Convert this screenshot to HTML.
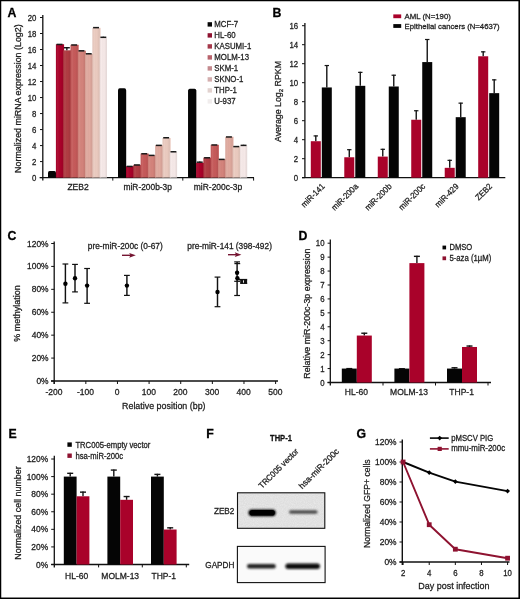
<!DOCTYPE html>
<html><head><meta charset="utf-8"><title>Figure</title>
<style>
html,body{margin:0;padding:0;background:#fff;}
body{width:520px;height:599px;overflow:hidden;}
svg{display:block;font-family:"Liberation Sans", sans-serif;will-change:transform;filter:blur(0.3px);}
</style></head>
<body>
<svg width="520" height="599" viewBox="0 0 520 599">
<rect x="0" y="0" width="520" height="599" fill="#fff"/>
<defs><linearGradient id="shade" x1="0" y1="0" x2="1" y2="0"><stop offset="0" stop-color="#000" stop-opacity="0.05"/><stop offset="0.25" stop-color="#fff" stop-opacity="0.06"/><stop offset="0.6" stop-color="#000" stop-opacity="0"/><stop offset="1" stop-color="#000" stop-opacity="0.08"/></linearGradient></defs>
<text x="7.60" y="16.80" font-size="12.3" text-anchor="start" fill="#000" stroke="#000" stroke-width="0.28" font-weight="bold" >A</text>
<line x1="42.80" y1="15.00" x2="42.80" y2="180.60" stroke="#111" stroke-width="1.3" stroke-linecap="butt"/>
<line x1="39.60" y1="177.60" x2="254.00" y2="177.60" stroke="#111" stroke-width="1.3" stroke-linecap="butt"/>
<line x1="40.00" y1="177.60" x2="42.80" y2="177.60" stroke="#111" stroke-width="1.0" stroke-linecap="butt"/>
<text x="36.40" y="180.60" font-size="8.5" text-anchor="end" fill="#1e1e1e" stroke="#1e1e1e" stroke-width="0.28" textLength="4.35" lengthAdjust="spacingAndGlyphs" >0</text>
<line x1="40.00" y1="161.59" x2="42.80" y2="161.59" stroke="#111" stroke-width="1.0" stroke-linecap="butt"/>
<text x="36.40" y="164.59" font-size="8.5" text-anchor="end" fill="#1e1e1e" stroke="#1e1e1e" stroke-width="0.28" textLength="4.35" lengthAdjust="spacingAndGlyphs" >2</text>
<line x1="40.00" y1="145.58" x2="42.80" y2="145.58" stroke="#111" stroke-width="1.0" stroke-linecap="butt"/>
<text x="36.40" y="148.58" font-size="8.5" text-anchor="end" fill="#1e1e1e" stroke="#1e1e1e" stroke-width="0.28" textLength="4.35" lengthAdjust="spacingAndGlyphs" >4</text>
<line x1="40.00" y1="129.57" x2="42.80" y2="129.57" stroke="#111" stroke-width="1.0" stroke-linecap="butt"/>
<text x="36.40" y="132.57" font-size="8.5" text-anchor="end" fill="#1e1e1e" stroke="#1e1e1e" stroke-width="0.28" textLength="4.35" lengthAdjust="spacingAndGlyphs" >6</text>
<line x1="40.00" y1="113.56" x2="42.80" y2="113.56" stroke="#111" stroke-width="1.0" stroke-linecap="butt"/>
<text x="36.40" y="116.56" font-size="8.5" text-anchor="end" fill="#1e1e1e" stroke="#1e1e1e" stroke-width="0.28" textLength="4.35" lengthAdjust="spacingAndGlyphs" >8</text>
<line x1="40.00" y1="97.55" x2="42.80" y2="97.55" stroke="#111" stroke-width="1.0" stroke-linecap="butt"/>
<text x="36.40" y="100.55" font-size="8.5" text-anchor="end" fill="#1e1e1e" stroke="#1e1e1e" stroke-width="0.28" textLength="8.70" lengthAdjust="spacingAndGlyphs" >10</text>
<line x1="40.00" y1="81.54" x2="42.80" y2="81.54" stroke="#111" stroke-width="1.0" stroke-linecap="butt"/>
<text x="36.40" y="84.54" font-size="8.5" text-anchor="end" fill="#1e1e1e" stroke="#1e1e1e" stroke-width="0.28" textLength="8.70" lengthAdjust="spacingAndGlyphs" >12</text>
<line x1="40.00" y1="65.53" x2="42.80" y2="65.53" stroke="#111" stroke-width="1.0" stroke-linecap="butt"/>
<text x="36.40" y="68.53" font-size="8.5" text-anchor="end" fill="#1e1e1e" stroke="#1e1e1e" stroke-width="0.28" textLength="8.70" lengthAdjust="spacingAndGlyphs" >14</text>
<line x1="40.00" y1="49.52" x2="42.80" y2="49.52" stroke="#111" stroke-width="1.0" stroke-linecap="butt"/>
<text x="36.40" y="52.52" font-size="8.5" text-anchor="end" fill="#1e1e1e" stroke="#1e1e1e" stroke-width="0.28" textLength="8.70" lengthAdjust="spacingAndGlyphs" >16</text>
<line x1="40.00" y1="33.51" x2="42.80" y2="33.51" stroke="#111" stroke-width="1.0" stroke-linecap="butt"/>
<text x="36.40" y="36.51" font-size="8.5" text-anchor="end" fill="#1e1e1e" stroke="#1e1e1e" stroke-width="0.28" textLength="8.70" lengthAdjust="spacingAndGlyphs" >18</text>
<line x1="40.00" y1="17.50" x2="42.80" y2="17.50" stroke="#111" stroke-width="1.0" stroke-linecap="butt"/>
<text x="36.40" y="20.50" font-size="8.5" text-anchor="end" fill="#1e1e1e" stroke="#1e1e1e" stroke-width="0.28" textLength="8.70" lengthAdjust="spacingAndGlyphs" >20</text>
<line x1="112.80" y1="177.60" x2="112.80" y2="180.60" stroke="#111" stroke-width="1.0" stroke-linecap="butt"/>
<line x1="182.80" y1="177.60" x2="182.80" y2="180.60" stroke="#111" stroke-width="1.0" stroke-linecap="butt"/>
<line x1="253.60" y1="177.60" x2="253.60" y2="180.60" stroke="#111" stroke-width="1.0" stroke-linecap="butt"/>
<text x="21.20" y="98.60" font-size="8.2" text-anchor="middle" fill="#1e1e1e" stroke="#1e1e1e" stroke-width="0.28" textLength="148.60" lengthAdjust="spacingAndGlyphs" transform="rotate(-90 21.20 98.60)" >Normalized miRNA expression (Log2)</text>
<rect x="48.00" y="171.04" width="8.00" height="6.56" rx="1.6" fill="#050505"/>
<rect x="48.00" y="173.04" width="8.00" height="4.56" fill="#050505" />
<rect x="55.90" y="44.24" width="8.20" height="133.36" fill="#aa0129" />
<rect x="55.90" y="44.24" width="7.30" height="133.36" fill="url(#shade)" />
<line x1="56.60" y1="44.44" x2="62.50" y2="44.44" stroke="#1a1a1a" stroke-width="1.5" stroke-linecap="butt"/>
<rect x="63.20" y="50.32" width="8.20" height="127.28" fill="#b03c42" />
<rect x="63.20" y="50.32" width="7.30" height="127.28" fill="url(#shade)" />
<line x1="63.90" y1="47.72" x2="69.80" y2="47.72" stroke="#1a1a1a" stroke-width="1.5" stroke-linecap="butt"/>
<line x1="66.85" y1="47.12" x2="66.85" y2="50.32" stroke="#151515" stroke-width="1.4" stroke-linecap="butt"/>
<rect x="70.50" y="44.80" width="8.20" height="132.80" fill="#c65a5a" />
<rect x="70.50" y="44.80" width="7.30" height="132.80" fill="url(#shade)" />
<line x1="71.20" y1="45.00" x2="77.10" y2="45.00" stroke="#1a1a1a" stroke-width="1.5" stroke-linecap="butt"/>
<rect x="77.80" y="50.64" width="8.20" height="126.96" fill="#d4837b" />
<rect x="77.80" y="50.64" width="7.30" height="126.96" fill="url(#shade)" />
<line x1="78.50" y1="50.84" x2="84.40" y2="50.84" stroke="#1a1a1a" stroke-width="1.5" stroke-linecap="butt"/>
<rect x="85.10" y="54.00" width="8.20" height="123.60" fill="#e0aa9f" />
<rect x="85.10" y="54.00" width="7.30" height="123.60" fill="url(#shade)" />
<line x1="85.80" y1="53.80" x2="91.70" y2="53.80" stroke="#1a1a1a" stroke-width="1.5" stroke-linecap="butt"/>
<line x1="88.75" y1="53.20" x2="88.75" y2="54.00" stroke="#151515" stroke-width="1.4" stroke-linecap="butt"/>
<rect x="92.40" y="27.83" width="8.20" height="149.77" fill="#ebcbc0" />
<rect x="92.40" y="27.83" width="7.30" height="149.77" fill="url(#shade)" />
<line x1="93.10" y1="27.63" x2="99.00" y2="27.63" stroke="#1a1a1a" stroke-width="1.5" stroke-linecap="butt"/>
<line x1="96.05" y1="27.03" x2="96.05" y2="27.83" stroke="#151515" stroke-width="1.4" stroke-linecap="butt"/>
<rect x="99.70" y="37.91" width="7.30" height="139.69" fill="#f6e9e8" />
<rect x="99.70" y="37.91" width="7.30" height="139.69" fill="url(#shade)" />
<line x1="100.40" y1="37.31" x2="106.30" y2="37.31" stroke="#1a1a1a" stroke-width="1.5" stroke-linecap="butt"/>
<line x1="103.35" y1="36.71" x2="103.35" y2="37.91" stroke="#151515" stroke-width="1.4" stroke-linecap="butt"/>
<rect x="118.10" y="88.34" width="8.00" height="89.26" rx="1.6" fill="#050505"/>
<rect x="118.10" y="90.34" width="8.00" height="87.26" fill="#050505" />
<rect x="126.00" y="166.23" width="8.20" height="11.37" fill="#aa0129" />
<rect x="126.00" y="166.23" width="7.30" height="11.37" fill="url(#shade)" />
<line x1="126.70" y1="166.43" x2="132.60" y2="166.43" stroke="#1a1a1a" stroke-width="1.5" stroke-linecap="butt"/>
<rect x="133.30" y="164.79" width="8.20" height="12.81" fill="#b03c42" />
<rect x="133.30" y="164.79" width="7.30" height="12.81" fill="url(#shade)" />
<line x1="134.00" y1="164.99" x2="139.90" y2="164.99" stroke="#1a1a1a" stroke-width="1.5" stroke-linecap="butt"/>
<rect x="140.60" y="153.58" width="8.20" height="24.02" fill="#c65a5a" />
<rect x="140.60" y="153.58" width="7.30" height="24.02" fill="url(#shade)" />
<line x1="141.30" y1="153.78" x2="147.20" y2="153.78" stroke="#1a1a1a" stroke-width="1.5" stroke-linecap="butt"/>
<rect x="147.90" y="155.19" width="8.20" height="22.41" fill="#d4837b" />
<rect x="147.90" y="155.19" width="7.30" height="22.41" fill="url(#shade)" />
<line x1="148.60" y1="155.39" x2="154.50" y2="155.39" stroke="#1a1a1a" stroke-width="1.5" stroke-linecap="butt"/>
<rect x="155.20" y="145.18" width="8.20" height="32.42" fill="#e0aa9f" />
<rect x="155.20" y="145.18" width="7.30" height="32.42" fill="url(#shade)" />
<line x1="155.90" y1="145.38" x2="161.80" y2="145.38" stroke="#1a1a1a" stroke-width="1.5" stroke-linecap="butt"/>
<rect x="162.50" y="137.98" width="8.20" height="39.62" fill="#ebcbc0" />
<rect x="162.50" y="137.98" width="7.30" height="39.62" fill="url(#shade)" />
<line x1="163.20" y1="137.77" x2="169.10" y2="137.77" stroke="#1a1a1a" stroke-width="1.5" stroke-linecap="butt"/>
<line x1="166.15" y1="137.17" x2="166.15" y2="137.98" stroke="#151515" stroke-width="1.4" stroke-linecap="butt"/>
<rect x="169.80" y="151.98" width="7.30" height="25.62" fill="#f6e9e8" />
<rect x="169.80" y="151.98" width="7.30" height="25.62" fill="url(#shade)" />
<line x1="170.50" y1="151.78" x2="176.40" y2="151.78" stroke="#1a1a1a" stroke-width="1.5" stroke-linecap="butt"/>
<line x1="173.45" y1="151.18" x2="173.45" y2="151.98" stroke="#151515" stroke-width="1.4" stroke-linecap="butt"/>
<rect x="188.20" y="88.74" width="8.00" height="88.86" rx="1.6" fill="#050505"/>
<rect x="188.20" y="90.74" width="8.00" height="86.86" fill="#050505" />
<rect x="196.10" y="162.79" width="8.20" height="14.81" fill="#aa0129" />
<rect x="196.10" y="162.79" width="7.30" height="14.81" fill="url(#shade)" />
<line x1="196.80" y1="162.19" x2="202.70" y2="162.19" stroke="#1a1a1a" stroke-width="1.5" stroke-linecap="butt"/>
<line x1="199.75" y1="161.59" x2="199.75" y2="162.79" stroke="#151515" stroke-width="1.4" stroke-linecap="butt"/>
<rect x="203.40" y="157.59" width="8.20" height="20.01" fill="#b03c42" />
<rect x="203.40" y="157.59" width="7.30" height="20.01" fill="url(#shade)" />
<line x1="204.10" y1="157.79" x2="210.00" y2="157.79" stroke="#1a1a1a" stroke-width="1.5" stroke-linecap="butt"/>
<rect x="210.70" y="144.78" width="8.20" height="32.82" fill="#c65a5a" />
<rect x="210.70" y="144.78" width="7.30" height="32.82" fill="url(#shade)" />
<line x1="211.40" y1="144.98" x2="217.30" y2="144.98" stroke="#1a1a1a" stroke-width="1.5" stroke-linecap="butt"/>
<rect x="218.00" y="159.19" width="8.20" height="18.41" fill="#d4837b" />
<rect x="218.00" y="159.19" width="7.30" height="18.41" fill="url(#shade)" />
<line x1="218.70" y1="159.39" x2="224.60" y2="159.39" stroke="#1a1a1a" stroke-width="1.5" stroke-linecap="butt"/>
<rect x="225.30" y="136.77" width="8.20" height="40.83" fill="#e0aa9f" />
<rect x="225.30" y="136.77" width="7.30" height="40.83" fill="url(#shade)" />
<line x1="226.00" y1="136.97" x2="231.90" y2="136.97" stroke="#1a1a1a" stroke-width="1.5" stroke-linecap="butt"/>
<rect x="232.60" y="146.38" width="8.20" height="31.22" fill="#ebcbc0" />
<rect x="232.60" y="146.38" width="7.30" height="31.22" fill="url(#shade)" />
<line x1="233.30" y1="146.58" x2="239.20" y2="146.58" stroke="#1a1a1a" stroke-width="1.5" stroke-linecap="butt"/>
<rect x="239.90" y="145.58" width="7.30" height="32.02" fill="#f6e9e8" />
<rect x="239.90" y="145.58" width="7.30" height="32.02" fill="url(#shade)" />
<line x1="240.60" y1="145.38" x2="246.50" y2="145.38" stroke="#1a1a1a" stroke-width="1.5" stroke-linecap="butt"/>
<line x1="243.55" y1="144.78" x2="243.55" y2="145.58" stroke="#151515" stroke-width="1.4" stroke-linecap="butt"/>
<text x="78.10" y="189.60" font-size="8.5" text-anchor="middle" fill="#1e1e1e" stroke="#1e1e1e" stroke-width="0.28" textLength="21.40" lengthAdjust="spacingAndGlyphs" >ZEB2</text>
<text x="147.70" y="189.60" font-size="8.5" text-anchor="middle" fill="#1e1e1e" stroke="#1e1e1e" stroke-width="0.28" textLength="48.40" lengthAdjust="spacingAndGlyphs" >miR-200b-3p</text>
<text x="218.00" y="189.60" font-size="8.5" text-anchor="middle" fill="#1e1e1e" stroke="#1e1e1e" stroke-width="0.28" textLength="48.40" lengthAdjust="spacingAndGlyphs" >miR-200c-3p</text>
<rect x="207.60" y="22.20" width="4.40" height="4.40" fill="#050505" />
<text x="214.30" y="27.40" font-size="8.5" text-anchor="start" fill="#1e1e1e" stroke="#1e1e1e" stroke-width="0.28" textLength="23.89" lengthAdjust="spacingAndGlyphs" >MCF-7</text>
<rect x="207.60" y="33.20" width="4.40" height="4.40" fill="#8e1230" />
<text x="214.30" y="38.40" font-size="8.5" text-anchor="start" fill="#1e1e1e" stroke="#1e1e1e" stroke-width="0.28" textLength="21.30" lengthAdjust="spacingAndGlyphs" >HL-60</text>
<rect x="207.60" y="44.20" width="4.40" height="4.40" fill="#a5384a" />
<text x="214.30" y="49.40" font-size="8.5" text-anchor="start" fill="#1e1e1e" stroke="#1e1e1e" stroke-width="0.28" textLength="36.94" lengthAdjust="spacingAndGlyphs" >KASUMI-1</text>
<rect x="207.60" y="55.20" width="4.40" height="4.40" fill="#b8636c" />
<text x="214.30" y="60.40" font-size="8.5" text-anchor="start" fill="#1e1e1e" stroke="#1e1e1e" stroke-width="0.28" textLength="34.76" lengthAdjust="spacingAndGlyphs" >MOLM-13</text>
<rect x="207.60" y="66.20" width="4.40" height="4.40" fill="#c48a8e" />
<text x="214.30" y="71.40" font-size="8.5" text-anchor="start" fill="#1e1e1e" stroke="#1e1e1e" stroke-width="0.28" textLength="23.90" lengthAdjust="spacingAndGlyphs" >SKM-1</text>
<rect x="207.60" y="77.20" width="4.40" height="4.40" fill="#d4aeae" />
<text x="214.30" y="82.40" font-size="8.5" text-anchor="start" fill="#1e1e1e" stroke="#1e1e1e" stroke-width="0.28" textLength="29.12" lengthAdjust="spacingAndGlyphs" >SKNO-1</text>
<rect x="207.60" y="88.20" width="4.40" height="4.40" fill="#e2d2cf" />
<text x="214.30" y="93.40" font-size="8.5" text-anchor="start" fill="#1e1e1e" stroke="#1e1e1e" stroke-width="0.28" textLength="22.59" lengthAdjust="spacingAndGlyphs" >THP-1</text>
<rect x="207.60" y="99.20" width="4.40" height="4.40" fill="#f1eded" />
<text x="214.30" y="104.40" font-size="8.5" text-anchor="start" fill="#1e1e1e" stroke="#1e1e1e" stroke-width="0.28" textLength="21.30" lengthAdjust="spacingAndGlyphs" >U-937</text>
<text x="272.40" y="17.10" font-size="12.3" text-anchor="start" fill="#000" stroke="#000" stroke-width="0.28" font-weight="bold" >B</text>
<line x1="304.90" y1="23.00" x2="304.90" y2="177.70" stroke="#111" stroke-width="1.3" stroke-linecap="butt"/>
<line x1="302.00" y1="177.70" x2="505.30" y2="177.70" stroke="#111" stroke-width="1.3" stroke-linecap="butt"/>
<line x1="302.00" y1="177.70" x2="304.90" y2="177.70" stroke="#111" stroke-width="1.0" stroke-linecap="butt"/>
<text x="298.20" y="180.70" font-size="8.5" text-anchor="end" fill="#1e1e1e" stroke="#1e1e1e" stroke-width="0.28" textLength="4.35" lengthAdjust="spacingAndGlyphs" >0</text>
<line x1="302.00" y1="158.70" x2="304.90" y2="158.70" stroke="#111" stroke-width="1.0" stroke-linecap="butt"/>
<text x="298.20" y="161.70" font-size="8.5" text-anchor="end" fill="#1e1e1e" stroke="#1e1e1e" stroke-width="0.28" textLength="4.35" lengthAdjust="spacingAndGlyphs" >2</text>
<line x1="302.00" y1="139.70" x2="304.90" y2="139.70" stroke="#111" stroke-width="1.0" stroke-linecap="butt"/>
<text x="298.20" y="142.70" font-size="8.5" text-anchor="end" fill="#1e1e1e" stroke="#1e1e1e" stroke-width="0.28" textLength="4.35" lengthAdjust="spacingAndGlyphs" >4</text>
<line x1="302.00" y1="120.70" x2="304.90" y2="120.70" stroke="#111" stroke-width="1.0" stroke-linecap="butt"/>
<text x="298.20" y="123.70" font-size="8.5" text-anchor="end" fill="#1e1e1e" stroke="#1e1e1e" stroke-width="0.28" textLength="4.35" lengthAdjust="spacingAndGlyphs" >6</text>
<line x1="302.00" y1="101.70" x2="304.90" y2="101.70" stroke="#111" stroke-width="1.0" stroke-linecap="butt"/>
<text x="298.20" y="104.70" font-size="8.5" text-anchor="end" fill="#1e1e1e" stroke="#1e1e1e" stroke-width="0.28" textLength="4.35" lengthAdjust="spacingAndGlyphs" >8</text>
<line x1="302.00" y1="82.70" x2="304.90" y2="82.70" stroke="#111" stroke-width="1.0" stroke-linecap="butt"/>
<text x="298.20" y="85.70" font-size="8.5" text-anchor="end" fill="#1e1e1e" stroke="#1e1e1e" stroke-width="0.28" textLength="8.70" lengthAdjust="spacingAndGlyphs" >10</text>
<line x1="302.00" y1="63.70" x2="304.90" y2="63.70" stroke="#111" stroke-width="1.0" stroke-linecap="butt"/>
<text x="298.20" y="66.70" font-size="8.5" text-anchor="end" fill="#1e1e1e" stroke="#1e1e1e" stroke-width="0.28" textLength="8.70" lengthAdjust="spacingAndGlyphs" >12</text>
<line x1="302.00" y1="44.70" x2="304.90" y2="44.70" stroke="#111" stroke-width="1.0" stroke-linecap="butt"/>
<text x="298.20" y="47.70" font-size="8.5" text-anchor="end" fill="#1e1e1e" stroke="#1e1e1e" stroke-width="0.28" textLength="8.70" lengthAdjust="spacingAndGlyphs" >14</text>
<line x1="302.00" y1="25.70" x2="304.90" y2="25.70" stroke="#111" stroke-width="1.0" stroke-linecap="butt"/>
<text x="298.20" y="28.70" font-size="8.5" text-anchor="end" fill="#1e1e1e" stroke="#1e1e1e" stroke-width="0.28" textLength="8.70" lengthAdjust="spacingAndGlyphs" >16</text>
<text x="281.2" y="101.5" font-size="8.8" text-anchor="middle" fill="#1e1e1e" stroke="#1e1e1e" stroke-width="0.28" transform="rotate(-90 281.2 101.5)" textLength="81" lengthAdjust="spacingAndGlyphs">Average Log<tspan font-size="6" dy="2">2</tspan><tspan dy="-2"> RPKM</tspan></text>
<line x1="315.80" y1="135.42" x2="315.80" y2="141.22" stroke="#151515" stroke-width="1.4" stroke-linecap="butt"/>
<line x1="313.60" y1="135.92" x2="318.00" y2="135.92" stroke="#151515" stroke-width="1.2" stroke-linecap="butt"/>
<rect x="310.80" y="141.22" width="10.00" height="36.48" fill="#a9022a" />
<line x1="326.80" y1="65.03" x2="326.80" y2="87.45" stroke="#151515" stroke-width="1.4" stroke-linecap="butt"/>
<line x1="324.60" y1="65.53" x2="329.00" y2="65.53" stroke="#151515" stroke-width="1.2" stroke-linecap="butt"/>
<rect x="321.80" y="87.45" width="10.00" height="90.25" fill="#050505" />
<text x="325.30" y="187.00" font-size="8.5" text-anchor="end" fill="#1e1e1e" stroke="#1e1e1e" stroke-width="0.28" textLength="29.55" lengthAdjust="spacingAndGlyphs" transform="rotate(-45 325.30 187.00)" >miR-141</text>
<line x1="349.28" y1="149.20" x2="349.28" y2="157.27" stroke="#151515" stroke-width="1.4" stroke-linecap="butt"/>
<line x1="347.08" y1="149.70" x2="351.48" y2="149.70" stroke="#151515" stroke-width="1.2" stroke-linecap="butt"/>
<rect x="344.28" y="157.27" width="10.00" height="20.43" fill="#a9022a" />
<line x1="360.28" y1="71.87" x2="360.28" y2="85.83" stroke="#151515" stroke-width="1.4" stroke-linecap="butt"/>
<line x1="358.08" y1="72.37" x2="362.48" y2="72.37" stroke="#151515" stroke-width="1.2" stroke-linecap="butt"/>
<rect x="355.28" y="85.83" width="10.00" height="91.86" fill="#050505" />
<text x="358.78" y="187.00" font-size="8.5" text-anchor="end" fill="#1e1e1e" stroke="#1e1e1e" stroke-width="0.28" textLength="33.90" lengthAdjust="spacingAndGlyphs" transform="rotate(-45 358.78 187.00)" >miR-200a</text>
<line x1="382.76" y1="148.82" x2="382.76" y2="156.61" stroke="#151515" stroke-width="1.4" stroke-linecap="butt"/>
<line x1="380.56" y1="149.32" x2="384.96" y2="149.32" stroke="#151515" stroke-width="1.2" stroke-linecap="butt"/>
<rect x="377.76" y="156.61" width="10.00" height="21.09" fill="#a9022a" />
<line x1="393.76" y1="74.72" x2="393.76" y2="86.50" stroke="#151515" stroke-width="1.4" stroke-linecap="butt"/>
<line x1="391.56" y1="75.22" x2="395.96" y2="75.22" stroke="#151515" stroke-width="1.2" stroke-linecap="butt"/>
<rect x="388.76" y="86.50" width="10.00" height="91.20" fill="#050505" />
<text x="392.26" y="187.00" font-size="8.5" text-anchor="end" fill="#1e1e1e" stroke="#1e1e1e" stroke-width="0.28" textLength="33.90" lengthAdjust="spacingAndGlyphs" transform="rotate(-45 392.26 187.00)" >miR-200b</text>
<line x1="416.24" y1="110.25" x2="416.24" y2="119.75" stroke="#151515" stroke-width="1.4" stroke-linecap="butt"/>
<line x1="414.04" y1="110.75" x2="418.44" y2="110.75" stroke="#151515" stroke-width="1.2" stroke-linecap="butt"/>
<rect x="411.24" y="119.75" width="10.00" height="57.95" fill="#a9022a" />
<line x1="427.24" y1="39.00" x2="427.24" y2="62.08" stroke="#151515" stroke-width="1.4" stroke-linecap="butt"/>
<line x1="425.04" y1="39.50" x2="429.44" y2="39.50" stroke="#151515" stroke-width="1.2" stroke-linecap="butt"/>
<rect x="422.24" y="62.08" width="10.00" height="115.61" fill="#050505" />
<text x="425.74" y="187.00" font-size="8.5" text-anchor="end" fill="#1e1e1e" stroke="#1e1e1e" stroke-width="0.28" textLength="33.46" lengthAdjust="spacingAndGlyphs" transform="rotate(-45 425.74 187.00)" >miR-200c</text>
<line x1="449.72" y1="159.84" x2="449.72" y2="167.82" stroke="#151515" stroke-width="1.4" stroke-linecap="butt"/>
<line x1="447.52" y1="160.34" x2="451.92" y2="160.34" stroke="#151515" stroke-width="1.2" stroke-linecap="butt"/>
<rect x="444.72" y="167.82" width="10.00" height="9.88" fill="#a9022a" />
<line x1="460.72" y1="102.65" x2="460.72" y2="117.18" stroke="#151515" stroke-width="1.4" stroke-linecap="butt"/>
<line x1="458.52" y1="103.15" x2="462.92" y2="103.15" stroke="#151515" stroke-width="1.2" stroke-linecap="butt"/>
<rect x="455.72" y="117.18" width="10.00" height="60.52" fill="#050505" />
<text x="459.22" y="187.00" font-size="8.5" text-anchor="end" fill="#1e1e1e" stroke="#1e1e1e" stroke-width="0.28" textLength="29.55" lengthAdjust="spacingAndGlyphs" transform="rotate(-45 459.22 187.00)" >miR-429</text>
<line x1="483.20" y1="51.35" x2="483.20" y2="56.29" stroke="#151515" stroke-width="1.4" stroke-linecap="butt"/>
<line x1="481.00" y1="51.85" x2="485.40" y2="51.85" stroke="#151515" stroke-width="1.2" stroke-linecap="butt"/>
<rect x="478.20" y="56.29" width="10.00" height="121.41" fill="#a9022a" />
<line x1="494.20" y1="79.37" x2="494.20" y2="93.15" stroke="#151515" stroke-width="1.4" stroke-linecap="butt"/>
<line x1="492.00" y1="79.87" x2="496.40" y2="79.87" stroke="#151515" stroke-width="1.2" stroke-linecap="butt"/>
<rect x="489.20" y="93.15" width="10.00" height="84.55" fill="#050505" />
<text x="492.70" y="187.00" font-size="8.5" text-anchor="end" fill="#1e1e1e" stroke="#1e1e1e" stroke-width="0.28" textLength="19.56" lengthAdjust="spacingAndGlyphs" transform="rotate(-45 492.70 187.00)" >ZEB2</text>
<rect x="393.30" y="14.40" width="7.90" height="3.80" fill="#a9022a" />
<text x="404.60" y="18.70" font-size="7.8" text-anchor="start" fill="#1e1e1e" stroke="#1e1e1e" stroke-width="0.28" >AML (N=190)</text>
<rect x="393.30" y="24.10" width="7.90" height="3.80" fill="#050505" />
<text x="404.60" y="28.60" font-size="7.6" text-anchor="start" fill="#1e1e1e" stroke="#1e1e1e" stroke-width="0.28" textLength="95.00" lengthAdjust="spacingAndGlyphs" >Epithelial cancers (N=4637)</text>
<text x="7.40" y="239.60" font-size="12.3" text-anchor="start" fill="#000" stroke="#000" stroke-width="0.28" font-weight="bold" >C</text>
<line x1="54.20" y1="241.40" x2="54.20" y2="384.00" stroke="#111" stroke-width="1.3" stroke-linecap="butt"/>
<line x1="51.00" y1="381.00" x2="278.00" y2="381.00" stroke="#111" stroke-width="1.3" stroke-linecap="butt"/>
<line x1="51.20" y1="381.00" x2="54.20" y2="381.00" stroke="#111" stroke-width="1.0" stroke-linecap="butt"/>
<text x="48.60" y="384.00" font-size="8.5" text-anchor="end" fill="#1e1e1e" stroke="#1e1e1e" stroke-width="0.28" textLength="12.16" lengthAdjust="spacingAndGlyphs" >0%</text>
<line x1="51.20" y1="358.08" x2="54.20" y2="358.08" stroke="#111" stroke-width="1.0" stroke-linecap="butt"/>
<text x="48.60" y="361.08" font-size="8.5" text-anchor="end" fill="#1e1e1e" stroke="#1e1e1e" stroke-width="0.28" textLength="16.84" lengthAdjust="spacingAndGlyphs" >20%</text>
<line x1="51.20" y1="335.17" x2="54.20" y2="335.17" stroke="#111" stroke-width="1.0" stroke-linecap="butt"/>
<text x="48.60" y="338.17" font-size="8.5" text-anchor="end" fill="#1e1e1e" stroke="#1e1e1e" stroke-width="0.28" textLength="16.84" lengthAdjust="spacingAndGlyphs" >40%</text>
<line x1="51.20" y1="312.25" x2="54.20" y2="312.25" stroke="#111" stroke-width="1.0" stroke-linecap="butt"/>
<text x="48.60" y="315.25" font-size="8.5" text-anchor="end" fill="#1e1e1e" stroke="#1e1e1e" stroke-width="0.28" textLength="16.84" lengthAdjust="spacingAndGlyphs" >60%</text>
<line x1="51.20" y1="289.34" x2="54.20" y2="289.34" stroke="#111" stroke-width="1.0" stroke-linecap="butt"/>
<text x="48.60" y="292.34" font-size="8.5" text-anchor="end" fill="#1e1e1e" stroke="#1e1e1e" stroke-width="0.28" textLength="16.84" lengthAdjust="spacingAndGlyphs" >80%</text>
<line x1="51.20" y1="266.42" x2="54.20" y2="266.42" stroke="#111" stroke-width="1.0" stroke-linecap="butt"/>
<text x="48.60" y="269.42" font-size="8.5" text-anchor="end" fill="#1e1e1e" stroke="#1e1e1e" stroke-width="0.28" textLength="21.52" lengthAdjust="spacingAndGlyphs" >100%</text>
<line x1="51.20" y1="243.50" x2="54.20" y2="243.50" stroke="#111" stroke-width="1.0" stroke-linecap="butt"/>
<text x="48.60" y="246.50" font-size="8.5" text-anchor="end" fill="#1e1e1e" stroke="#1e1e1e" stroke-width="0.28" textLength="21.52" lengthAdjust="spacingAndGlyphs" >120%</text>
<line x1="54.20" y1="381.00" x2="54.20" y2="384.00" stroke="#111" stroke-width="1.0" stroke-linecap="butt"/>
<text x="53.90" y="395.00" font-size="8.5" text-anchor="middle" fill="#1e1e1e" stroke="#1e1e1e" stroke-width="0.28" >-200</text>
<line x1="85.83" y1="381.00" x2="85.83" y2="384.00" stroke="#111" stroke-width="1.0" stroke-linecap="butt"/>
<text x="85.53" y="395.00" font-size="8.5" text-anchor="middle" fill="#1e1e1e" stroke="#1e1e1e" stroke-width="0.28" >-100</text>
<line x1="117.46" y1="381.00" x2="117.46" y2="384.00" stroke="#111" stroke-width="1.0" stroke-linecap="butt"/>
<text x="117.16" y="395.00" font-size="8.5" text-anchor="middle" fill="#1e1e1e" stroke="#1e1e1e" stroke-width="0.28" >0</text>
<line x1="149.09" y1="381.00" x2="149.09" y2="384.00" stroke="#111" stroke-width="1.0" stroke-linecap="butt"/>
<text x="148.79" y="395.00" font-size="8.5" text-anchor="middle" fill="#1e1e1e" stroke="#1e1e1e" stroke-width="0.28" >100</text>
<line x1="180.72" y1="381.00" x2="180.72" y2="384.00" stroke="#111" stroke-width="1.0" stroke-linecap="butt"/>
<text x="180.42" y="395.00" font-size="8.5" text-anchor="middle" fill="#1e1e1e" stroke="#1e1e1e" stroke-width="0.28" >200</text>
<line x1="212.35" y1="381.00" x2="212.35" y2="384.00" stroke="#111" stroke-width="1.0" stroke-linecap="butt"/>
<text x="212.05" y="395.00" font-size="8.5" text-anchor="middle" fill="#1e1e1e" stroke="#1e1e1e" stroke-width="0.28" >300</text>
<line x1="243.98" y1="381.00" x2="243.98" y2="384.00" stroke="#111" stroke-width="1.0" stroke-linecap="butt"/>
<text x="243.68" y="395.00" font-size="8.5" text-anchor="middle" fill="#1e1e1e" stroke="#1e1e1e" stroke-width="0.28" >400</text>
<line x1="275.61" y1="381.00" x2="275.61" y2="384.00" stroke="#111" stroke-width="1.0" stroke-linecap="butt"/>
<text x="275.31" y="395.00" font-size="8.5" text-anchor="middle" fill="#1e1e1e" stroke="#1e1e1e" stroke-width="0.28" >500</text>
<text x="163.80" y="409.10" font-size="9.3" text-anchor="middle" fill="#1e1e1e" stroke="#1e1e1e" stroke-width="0.28" textLength="83.60" lengthAdjust="spacingAndGlyphs" >Relative position (bp)</text>
<text x="20.30" y="313.50" font-size="8.2" text-anchor="middle" fill="#1e1e1e" stroke="#1e1e1e" stroke-width="0.28" textLength="56.30" lengthAdjust="spacingAndGlyphs" transform="rotate(-90 20.30 313.50)" >% methylation</text>
<line x1="65.40" y1="264.00" x2="65.40" y2="302.90" stroke="#111" stroke-width="1.45" stroke-linecap="butt"/>
<line x1="62.50" y1="264.00" x2="68.30" y2="264.00" stroke="#111" stroke-width="1.2" stroke-linecap="butt"/>
<line x1="62.50" y1="302.90" x2="68.30" y2="302.90" stroke="#111" stroke-width="1.2" stroke-linecap="butt"/>
<circle cx="65.40" cy="283.70" r="2.2" fill="#000"/>
<line x1="75.00" y1="264.40" x2="75.00" y2="291.90" stroke="#111" stroke-width="1.45" stroke-linecap="butt"/>
<line x1="72.10" y1="264.40" x2="77.90" y2="264.40" stroke="#111" stroke-width="1.2" stroke-linecap="butt"/>
<line x1="72.10" y1="291.90" x2="77.90" y2="291.90" stroke="#111" stroke-width="1.2" stroke-linecap="butt"/>
<circle cx="75.00" cy="278.30" r="2.2" fill="#000"/>
<line x1="87.10" y1="268.50" x2="87.10" y2="303.30" stroke="#111" stroke-width="1.45" stroke-linecap="butt"/>
<line x1="84.20" y1="268.50" x2="90.00" y2="268.50" stroke="#111" stroke-width="1.2" stroke-linecap="butt"/>
<line x1="84.20" y1="303.30" x2="90.00" y2="303.30" stroke="#111" stroke-width="1.2" stroke-linecap="butt"/>
<circle cx="87.10" cy="285.60" r="2.2" fill="#000"/>
<line x1="126.90" y1="275.40" x2="126.90" y2="295.40" stroke="#111" stroke-width="1.45" stroke-linecap="butt"/>
<line x1="124.00" y1="275.40" x2="129.80" y2="275.40" stroke="#111" stroke-width="1.2" stroke-linecap="butt"/>
<line x1="124.00" y1="295.40" x2="129.80" y2="295.40" stroke="#111" stroke-width="1.2" stroke-linecap="butt"/>
<circle cx="126.90" cy="285.60" r="2.2" fill="#000"/>
<line x1="217.50" y1="277.10" x2="217.50" y2="306.70" stroke="#111" stroke-width="1.45" stroke-linecap="butt"/>
<line x1="214.60" y1="277.10" x2="220.40" y2="277.10" stroke="#111" stroke-width="1.2" stroke-linecap="butt"/>
<line x1="214.60" y1="306.70" x2="220.40" y2="306.70" stroke="#111" stroke-width="1.2" stroke-linecap="butt"/>
<circle cx="217.50" cy="292.00" r="2.2" fill="#000"/>
<line x1="237.10" y1="261.90" x2="237.10" y2="295.50" stroke="#111" stroke-width="1.45" stroke-linecap="butt"/>
<line x1="234.20" y1="261.90" x2="240.00" y2="261.90" stroke="#111" stroke-width="1.2" stroke-linecap="butt"/>
<line x1="234.20" y1="295.50" x2="240.00" y2="295.50" stroke="#111" stroke-width="1.2" stroke-linecap="butt"/>
<circle cx="237.10" cy="272.70" r="2.2" fill="#000"/>
<line x1="234.40" y1="263.60" x2="240.20" y2="263.60" stroke="#111" stroke-width="1.2" stroke-linecap="butt"/>
<circle cx="237.4" cy="278.3" r="2.2" fill="#000"/>
<line x1="234.20" y1="281.30" x2="240.00" y2="281.30" stroke="#111" stroke-width="1.2" stroke-linecap="butt"/>
<rect x="238.60" y="278.90" width="8.60" height="1.40" fill="#111" />
<rect x="240.20" y="279.60" width="2.80" height="4.20" fill="#111" />
<rect x="243.90" y="280.00" width="3.20" height="3.80" fill="#111" />
<rect x="240.40" y="282.70" width="6.80" height="1.20" fill="#111" />
<text x="87.80" y="249.20" font-size="8.5" text-anchor="start" fill="#1e1e1e" stroke="#1e1e1e" stroke-width="0.28" textLength="74.90" lengthAdjust="spacingAndGlyphs" >pre-miR-200c (0-67)</text>
<text x="187.30" y="249.00" font-size="8.5" text-anchor="start" fill="#1e1e1e" stroke="#1e1e1e" stroke-width="0.28" textLength="84.60" lengthAdjust="spacingAndGlyphs" >pre-miR-141 (398-492)</text>
<line x1="122.00" y1="255.30" x2="131.80" y2="255.30" stroke="#751532" stroke-width="1.4" stroke-linecap="butt"/>
<path d="M135.80,255.30 L129.20,252.90 L130.40,255.30 L129.20,257.70 Z" fill="#751532"/>
<line x1="228.00" y1="254.70" x2="237.40" y2="254.70" stroke="#751532" stroke-width="1.4" stroke-linecap="butt"/>
<path d="M241.40,254.70 L234.80,252.30 L236.00,254.70 L234.80,257.10 Z" fill="#751532"/>
<text x="298.40" y="240.30" font-size="12.3" text-anchor="start" fill="#000" stroke="#000" stroke-width="0.28" font-weight="bold" >D</text>
<line x1="330.30" y1="239.40" x2="330.30" y2="385.50" stroke="#111" stroke-width="1.3" stroke-linecap="butt"/>
<line x1="327.60" y1="382.50" x2="491.00" y2="382.50" stroke="#111" stroke-width="1.3" stroke-linecap="butt"/>
<line x1="327.60" y1="382.50" x2="330.30" y2="382.50" stroke="#111" stroke-width="1.0" stroke-linecap="butt"/>
<text x="324.50" y="385.50" font-size="8.5" text-anchor="end" fill="#1e1e1e" stroke="#1e1e1e" stroke-width="0.28" textLength="4.35" lengthAdjust="spacingAndGlyphs" >0</text>
<line x1="327.60" y1="368.57" x2="330.30" y2="368.57" stroke="#111" stroke-width="1.0" stroke-linecap="butt"/>
<text x="324.50" y="371.57" font-size="8.5" text-anchor="end" fill="#1e1e1e" stroke="#1e1e1e" stroke-width="0.28" textLength="4.35" lengthAdjust="spacingAndGlyphs" >1</text>
<line x1="327.60" y1="354.64" x2="330.30" y2="354.64" stroke="#111" stroke-width="1.0" stroke-linecap="butt"/>
<text x="324.50" y="357.64" font-size="8.5" text-anchor="end" fill="#1e1e1e" stroke="#1e1e1e" stroke-width="0.28" textLength="4.35" lengthAdjust="spacingAndGlyphs" >2</text>
<line x1="327.60" y1="340.71" x2="330.30" y2="340.71" stroke="#111" stroke-width="1.0" stroke-linecap="butt"/>
<text x="324.50" y="343.71" font-size="8.5" text-anchor="end" fill="#1e1e1e" stroke="#1e1e1e" stroke-width="0.28" textLength="4.35" lengthAdjust="spacingAndGlyphs" >3</text>
<line x1="327.60" y1="326.78" x2="330.30" y2="326.78" stroke="#111" stroke-width="1.0" stroke-linecap="butt"/>
<text x="324.50" y="329.78" font-size="8.5" text-anchor="end" fill="#1e1e1e" stroke="#1e1e1e" stroke-width="0.28" textLength="4.35" lengthAdjust="spacingAndGlyphs" >4</text>
<line x1="327.60" y1="312.85" x2="330.30" y2="312.85" stroke="#111" stroke-width="1.0" stroke-linecap="butt"/>
<text x="324.50" y="315.85" font-size="8.5" text-anchor="end" fill="#1e1e1e" stroke="#1e1e1e" stroke-width="0.28" textLength="4.35" lengthAdjust="spacingAndGlyphs" >5</text>
<line x1="327.60" y1="298.92" x2="330.30" y2="298.92" stroke="#111" stroke-width="1.0" stroke-linecap="butt"/>
<text x="324.50" y="301.92" font-size="8.5" text-anchor="end" fill="#1e1e1e" stroke="#1e1e1e" stroke-width="0.28" textLength="4.35" lengthAdjust="spacingAndGlyphs" >6</text>
<line x1="327.60" y1="284.99" x2="330.30" y2="284.99" stroke="#111" stroke-width="1.0" stroke-linecap="butt"/>
<text x="324.50" y="287.99" font-size="8.5" text-anchor="end" fill="#1e1e1e" stroke="#1e1e1e" stroke-width="0.28" textLength="4.35" lengthAdjust="spacingAndGlyphs" >7</text>
<line x1="327.60" y1="271.06" x2="330.30" y2="271.06" stroke="#111" stroke-width="1.0" stroke-linecap="butt"/>
<text x="324.50" y="274.06" font-size="8.5" text-anchor="end" fill="#1e1e1e" stroke="#1e1e1e" stroke-width="0.28" textLength="4.35" lengthAdjust="spacingAndGlyphs" >8</text>
<line x1="327.60" y1="257.13" x2="330.30" y2="257.13" stroke="#111" stroke-width="1.0" stroke-linecap="butt"/>
<text x="324.50" y="260.13" font-size="8.5" text-anchor="end" fill="#1e1e1e" stroke="#1e1e1e" stroke-width="0.28" textLength="4.35" lengthAdjust="spacingAndGlyphs" >9</text>
<line x1="327.60" y1="243.20" x2="330.30" y2="243.20" stroke="#111" stroke-width="1.0" stroke-linecap="butt"/>
<text x="324.50" y="246.20" font-size="8.5" text-anchor="end" fill="#1e1e1e" stroke="#1e1e1e" stroke-width="0.28" textLength="8.70" lengthAdjust="spacingAndGlyphs" >10</text>
<line x1="383.00" y1="382.50" x2="383.00" y2="385.50" stroke="#111" stroke-width="1.0" stroke-linecap="butt"/>
<line x1="435.50" y1="382.50" x2="435.50" y2="385.50" stroke="#111" stroke-width="1.0" stroke-linecap="butt"/>
<line x1="488.00" y1="382.50" x2="488.00" y2="385.50" stroke="#111" stroke-width="1.0" stroke-linecap="butt"/>
<text x="310.20" y="313.60" font-size="8.2" text-anchor="middle" fill="#1e1e1e" stroke="#1e1e1e" stroke-width="0.28" textLength="130.20" lengthAdjust="spacingAndGlyphs" transform="rotate(-90 310.20 313.60)" >Relative miR-200c-3p expression</text>
<line x1="346.30" y1="368.61" x2="352.30" y2="368.61" stroke="#151515" stroke-width="1.4" stroke-linecap="butt"/>
<rect x="341.80" y="368.57" width="15.00" height="13.93" fill="#050505" />
<line x1="364.30" y1="332.63" x2="364.30" y2="335.56" stroke="#151515" stroke-width="1.4" stroke-linecap="butt"/>
<line x1="361.30" y1="333.23" x2="367.30" y2="333.23" stroke="#151515" stroke-width="1.4" stroke-linecap="butt"/>
<rect x="356.80" y="335.56" width="15.00" height="46.94" fill="#a9022a" />
<text x="356.40" y="395.20" font-size="8.5" text-anchor="middle" fill="#1e1e1e" stroke="#1e1e1e" stroke-width="0.28" >HL-60</text>
<line x1="398.90" y1="368.75" x2="404.90" y2="368.75" stroke="#151515" stroke-width="1.4" stroke-linecap="butt"/>
<rect x="394.40" y="368.57" width="15.00" height="13.93" fill="#050505" />
<line x1="416.90" y1="255.74" x2="416.90" y2="263.12" stroke="#151515" stroke-width="1.4" stroke-linecap="butt"/>
<line x1="413.90" y1="256.34" x2="419.90" y2="256.34" stroke="#151515" stroke-width="1.4" stroke-linecap="butt"/>
<rect x="409.40" y="263.12" width="15.00" height="119.38" fill="#a9022a" />
<text x="409.00" y="395.20" font-size="8.5" text-anchor="middle" fill="#1e1e1e" stroke="#1e1e1e" stroke-width="0.28" >MOLM-13</text>
<line x1="454.50" y1="367.18" x2="454.50" y2="368.57" stroke="#151515" stroke-width="1.4" stroke-linecap="butt"/>
<line x1="451.50" y1="367.78" x2="457.50" y2="367.78" stroke="#151515" stroke-width="1.4" stroke-linecap="butt"/>
<rect x="447.00" y="368.57" width="15.00" height="13.93" fill="#050505" />
<line x1="469.50" y1="345.45" x2="469.50" y2="346.98" stroke="#151515" stroke-width="1.4" stroke-linecap="butt"/>
<line x1="466.50" y1="346.05" x2="472.50" y2="346.05" stroke="#151515" stroke-width="1.4" stroke-linecap="butt"/>
<rect x="462.00" y="346.98" width="15.00" height="35.52" fill="#a9022a" />
<text x="461.60" y="395.20" font-size="8.5" text-anchor="middle" fill="#1e1e1e" stroke="#1e1e1e" stroke-width="0.28" >THP-1</text>
<rect x="442.50" y="245.60" width="3.60" height="3.80" fill="#050505" />
<text x="449.40" y="250.00" font-size="8.5" text-anchor="start" fill="#1e1e1e" stroke="#1e1e1e" stroke-width="0.28" textLength="22.80" lengthAdjust="spacingAndGlyphs" >DMSO</text>
<rect x="442.50" y="256.40" width="3.60" height="3.80" fill="#8e1230" />
<text x="449.40" y="260.60" font-size="8.5" text-anchor="start" fill="#1e1e1e" stroke="#1e1e1e" stroke-width="0.28" textLength="41.90" lengthAdjust="spacingAndGlyphs" >5-aza (1µM)</text>
<text x="8.60" y="438.00" font-size="12.3" text-anchor="start" fill="#000" stroke="#000" stroke-width="0.28" font-weight="bold" >E</text>
<line x1="54.30" y1="455.80" x2="54.30" y2="567.40" stroke="#111" stroke-width="1.3" stroke-linecap="butt"/>
<line x1="51.20" y1="564.50" x2="189.20" y2="564.50" stroke="#111" stroke-width="1.3" stroke-linecap="butt"/>
<line x1="51.20" y1="564.50" x2="54.30" y2="564.50" stroke="#111" stroke-width="1.0" stroke-linecap="butt"/>
<text x="48.20" y="567.50" font-size="8.5" text-anchor="end" fill="#1e1e1e" stroke="#1e1e1e" stroke-width="0.28" textLength="12.16" lengthAdjust="spacingAndGlyphs" >0%</text>
<line x1="51.20" y1="546.92" x2="54.30" y2="546.92" stroke="#111" stroke-width="1.0" stroke-linecap="butt"/>
<text x="48.20" y="549.92" font-size="8.5" text-anchor="end" fill="#1e1e1e" stroke="#1e1e1e" stroke-width="0.28" textLength="16.84" lengthAdjust="spacingAndGlyphs" >20%</text>
<line x1="51.20" y1="529.34" x2="54.30" y2="529.34" stroke="#111" stroke-width="1.0" stroke-linecap="butt"/>
<text x="48.20" y="532.34" font-size="8.5" text-anchor="end" fill="#1e1e1e" stroke="#1e1e1e" stroke-width="0.28" textLength="16.84" lengthAdjust="spacingAndGlyphs" >40%</text>
<line x1="51.20" y1="511.76" x2="54.30" y2="511.76" stroke="#111" stroke-width="1.0" stroke-linecap="butt"/>
<text x="48.20" y="514.76" font-size="8.5" text-anchor="end" fill="#1e1e1e" stroke="#1e1e1e" stroke-width="0.28" textLength="16.84" lengthAdjust="spacingAndGlyphs" >60%</text>
<line x1="51.20" y1="494.18" x2="54.30" y2="494.18" stroke="#111" stroke-width="1.0" stroke-linecap="butt"/>
<text x="48.20" y="497.18" font-size="8.5" text-anchor="end" fill="#1e1e1e" stroke="#1e1e1e" stroke-width="0.28" textLength="16.84" lengthAdjust="spacingAndGlyphs" >80%</text>
<line x1="51.20" y1="476.60" x2="54.30" y2="476.60" stroke="#111" stroke-width="1.0" stroke-linecap="butt"/>
<text x="48.20" y="479.60" font-size="8.5" text-anchor="end" fill="#1e1e1e" stroke="#1e1e1e" stroke-width="0.28" textLength="21.52" lengthAdjust="spacingAndGlyphs" >100%</text>
<line x1="51.20" y1="459.02" x2="54.30" y2="459.02" stroke="#111" stroke-width="1.0" stroke-linecap="butt"/>
<text x="48.20" y="462.02" font-size="8.5" text-anchor="end" fill="#1e1e1e" stroke="#1e1e1e" stroke-width="0.28" textLength="21.52" lengthAdjust="spacingAndGlyphs" >120%</text>
<line x1="98.60" y1="564.50" x2="98.60" y2="567.40" stroke="#111" stroke-width="1.0" stroke-linecap="butt"/>
<line x1="142.30" y1="564.50" x2="142.30" y2="567.40" stroke="#111" stroke-width="1.0" stroke-linecap="butt"/>
<line x1="186.30" y1="564.50" x2="186.30" y2="567.40" stroke="#111" stroke-width="1.0" stroke-linecap="butt"/>
<text x="21.00" y="513.00" font-size="8.2" text-anchor="middle" fill="#1e1e1e" stroke="#1e1e1e" stroke-width="0.28" textLength="93.40" lengthAdjust="spacingAndGlyphs" transform="rotate(-90 21.00 513.00)" >Normalized cell number</text>
<line x1="70.20" y1="472.73" x2="70.20" y2="476.60" stroke="#151515" stroke-width="1.4" stroke-linecap="butt"/>
<line x1="67.20" y1="473.33" x2="73.20" y2="473.33" stroke="#151515" stroke-width="1.4" stroke-linecap="butt"/>
<rect x="63.80" y="476.60" width="12.80" height="87.90" fill="#050505" />
<line x1="83.00" y1="491.54" x2="83.00" y2="496.29" stroke="#151515" stroke-width="1.4" stroke-linecap="butt"/>
<line x1="80.00" y1="492.14" x2="86.00" y2="492.14" stroke="#151515" stroke-width="1.4" stroke-linecap="butt"/>
<rect x="76.60" y="496.29" width="12.80" height="68.21" fill="#a9022a" />
<text x="76.60" y="579.00" font-size="8.5" text-anchor="middle" fill="#1e1e1e" stroke="#1e1e1e" stroke-width="0.28" >HL-60</text>
<line x1="113.80" y1="469.48" x2="113.80" y2="476.60" stroke="#151515" stroke-width="1.4" stroke-linecap="butt"/>
<line x1="110.80" y1="470.08" x2="116.80" y2="470.08" stroke="#151515" stroke-width="1.4" stroke-linecap="butt"/>
<rect x="107.40" y="476.60" width="12.80" height="87.90" fill="#050505" />
<line x1="126.60" y1="495.94" x2="126.60" y2="499.81" stroke="#151515" stroke-width="1.4" stroke-linecap="butt"/>
<line x1="123.60" y1="496.54" x2="129.60" y2="496.54" stroke="#151515" stroke-width="1.4" stroke-linecap="butt"/>
<rect x="120.20" y="499.81" width="12.80" height="64.69" fill="#a9022a" />
<text x="120.20" y="579.00" font-size="8.5" text-anchor="middle" fill="#1e1e1e" stroke="#1e1e1e" stroke-width="0.28" >MOLM-13</text>
<line x1="157.40" y1="473.79" x2="157.40" y2="476.60" stroke="#151515" stroke-width="1.4" stroke-linecap="butt"/>
<line x1="154.40" y1="474.39" x2="160.40" y2="474.39" stroke="#151515" stroke-width="1.4" stroke-linecap="butt"/>
<rect x="151.00" y="476.60" width="12.80" height="87.90" fill="#050505" />
<line x1="170.20" y1="527.23" x2="170.20" y2="529.52" stroke="#151515" stroke-width="1.4" stroke-linecap="butt"/>
<line x1="167.20" y1="527.83" x2="173.20" y2="527.83" stroke="#151515" stroke-width="1.4" stroke-linecap="butt"/>
<rect x="163.80" y="529.52" width="12.80" height="34.98" fill="#a9022a" />
<text x="163.80" y="579.00" font-size="8.5" text-anchor="middle" fill="#1e1e1e" stroke="#1e1e1e" stroke-width="0.28" >THP-1</text>
<rect x="67.40" y="442.40" width="4.40" height="4.40" fill="#050505" />
<text x="75.40" y="447.60" font-size="8.5" text-anchor="start" fill="#1e1e1e" stroke="#1e1e1e" stroke-width="0.28" textLength="75.00" lengthAdjust="spacingAndGlyphs" >TRC005-empty vector</text>
<rect x="67.40" y="453.50" width="4.40" height="4.40" fill="#8e1230" />
<text x="75.40" y="458.60" font-size="8.5" text-anchor="start" fill="#1e1e1e" stroke="#1e1e1e" stroke-width="0.28" textLength="47.70" lengthAdjust="spacingAndGlyphs" >hsa-miR-200c</text>
<text x="206.20" y="437.70" font-size="12.3" text-anchor="start" fill="#000" stroke="#000" stroke-width="0.28" font-weight="bold" >F</text>
<text x="270.00" y="440.80" font-size="8.4" text-anchor="start" fill="#111" stroke="#111" stroke-width="0.28" font-weight="bold" textLength="21.90" lengthAdjust="spacingAndGlyphs" >THP-1</text>
<text x="262.00" y="489.00" font-size="8.5" text-anchor="start" fill="#1e1e1e" stroke="#1e1e1e" stroke-width="0.28" textLength="52.59" lengthAdjust="spacingAndGlyphs" transform="rotate(-45 262.00 489.00)" >TRC005 vector</text>
<text x="302.20" y="489.40" font-size="8.5" text-anchor="start" fill="#1e1e1e" stroke="#1e1e1e" stroke-width="0.28" transform="rotate(-45 302.20 489.40)" >hsa-miR-200c</text>
<defs><filter id="bl2" x="-30%" y="-100%" width="160%" height="300%"><feGaussianBlur stdDeviation="0.8"/></filter><filter id="bl1" x="-30%" y="-100%" width="160%" height="300%"><feGaussianBlur stdDeviation="1.1"/></filter><filter id="noise" x="0" y="0" width="100%" height="100%"><feTurbulence type="fractalNoise" baseFrequency="0.9" numOctaves="2" seed="3"/><feColorMatrix type="matrix" values="0 0 0 0 0  0 0 0 0 0  0 0 0 0 0  0 0 0 0.25 0"/><feComposite in2="SourceGraphic" operator="in"/></filter></defs>
<rect x="237.50" y="492.80" width="87.30" height="35.50" fill="#ebebeb" stroke="#111" stroke-width="1.1"/>
<rect x="238.00" y="493.30" width="86.30" height="34.50" fill="#000" filter="url(#noise)" opacity="0.3"/>
<rect x="237.40" y="546.40" width="87.70" height="36.20" fill="#fafafa" stroke="#111" stroke-width="1.1"/>
<rect x="248.4" y="509.4" width="27.4" height="6.8" rx="3.4" fill="#000" filter="url(#bl2)"/>
<rect x="249.6" y="510.0" width="25.2" height="5.6" rx="2.8" fill="#000"/>
<rect x="289.0" y="510.2" width="28.6" height="3.6" rx="1.8" fill="#4a4a4a" filter="url(#bl2)"/>
<rect x="247.0" y="564.0" width="28.8" height="4.6" rx="2.3" fill="#222" filter="url(#bl2)"/>
<rect x="285.4" y="563.6" width="34.6" height="5.4" rx="2.7" fill="#0c0c0c" filter="url(#bl2)"/>
<text x="234.40" y="514.30" font-size="8.5" text-anchor="end" fill="#1e1e1e" stroke="#1e1e1e" stroke-width="0.28" textLength="20.50" lengthAdjust="spacingAndGlyphs" >ZEB2</text>
<text x="234.40" y="568.40" font-size="8.5" text-anchor="end" fill="#1e1e1e" stroke="#1e1e1e" stroke-width="0.28" textLength="29.10" lengthAdjust="spacingAndGlyphs" >GAPDH</text>
<text x="356.40" y="438.10" font-size="12.3" text-anchor="start" fill="#000" stroke="#000" stroke-width="0.28" font-weight="bold" >G</text>
<line x1="402.30" y1="439.60" x2="402.30" y2="565.00" stroke="#111" stroke-width="1.4" stroke-linecap="butt"/>
<line x1="399.50" y1="562.00" x2="509.50" y2="562.00" stroke="#111" stroke-width="1.4" stroke-linecap="butt"/>
<line x1="399.50" y1="562.00" x2="402.30" y2="562.00" stroke="#111" stroke-width="1.0" stroke-linecap="butt"/>
<text x="396.60" y="565.00" font-size="8.5" text-anchor="end" fill="#1e1e1e" stroke="#1e1e1e" stroke-width="0.28" textLength="12.16" lengthAdjust="spacingAndGlyphs" >0%</text>
<line x1="399.50" y1="542.00" x2="402.30" y2="542.00" stroke="#111" stroke-width="1.0" stroke-linecap="butt"/>
<text x="396.60" y="545.00" font-size="8.5" text-anchor="end" fill="#1e1e1e" stroke="#1e1e1e" stroke-width="0.28" textLength="16.84" lengthAdjust="spacingAndGlyphs" >20%</text>
<line x1="399.50" y1="522.00" x2="402.30" y2="522.00" stroke="#111" stroke-width="1.0" stroke-linecap="butt"/>
<text x="396.60" y="525.00" font-size="8.5" text-anchor="end" fill="#1e1e1e" stroke="#1e1e1e" stroke-width="0.28" textLength="16.84" lengthAdjust="spacingAndGlyphs" >40%</text>
<line x1="399.50" y1="502.00" x2="402.30" y2="502.00" stroke="#111" stroke-width="1.0" stroke-linecap="butt"/>
<text x="396.60" y="505.00" font-size="8.5" text-anchor="end" fill="#1e1e1e" stroke="#1e1e1e" stroke-width="0.28" textLength="16.84" lengthAdjust="spacingAndGlyphs" >60%</text>
<line x1="399.50" y1="482.00" x2="402.30" y2="482.00" stroke="#111" stroke-width="1.0" stroke-linecap="butt"/>
<text x="396.60" y="485.00" font-size="8.5" text-anchor="end" fill="#1e1e1e" stroke="#1e1e1e" stroke-width="0.28" textLength="16.84" lengthAdjust="spacingAndGlyphs" >80%</text>
<line x1="399.50" y1="462.00" x2="402.30" y2="462.00" stroke="#111" stroke-width="1.0" stroke-linecap="butt"/>
<text x="396.60" y="465.00" font-size="8.5" text-anchor="end" fill="#1e1e1e" stroke="#1e1e1e" stroke-width="0.28" textLength="21.52" lengthAdjust="spacingAndGlyphs" >100%</text>
<line x1="399.50" y1="442.00" x2="402.30" y2="442.00" stroke="#111" stroke-width="1.0" stroke-linecap="butt"/>
<text x="396.60" y="445.00" font-size="8.5" text-anchor="end" fill="#1e1e1e" stroke="#1e1e1e" stroke-width="0.28" textLength="21.52" lengthAdjust="spacingAndGlyphs" >120%</text>
<line x1="403.10" y1="562.00" x2="403.10" y2="565.00" stroke="#111" stroke-width="1.0" stroke-linecap="butt"/>
<text x="403.10" y="575.60" font-size="8.5" text-anchor="middle" fill="#1e1e1e" stroke="#1e1e1e" stroke-width="0.28" textLength="4.35" lengthAdjust="spacingAndGlyphs" >2</text>
<line x1="429.22" y1="562.00" x2="429.22" y2="565.00" stroke="#111" stroke-width="1.0" stroke-linecap="butt"/>
<text x="429.22" y="575.60" font-size="8.5" text-anchor="middle" fill="#1e1e1e" stroke="#1e1e1e" stroke-width="0.28" textLength="4.35" lengthAdjust="spacingAndGlyphs" >4</text>
<line x1="455.34" y1="562.00" x2="455.34" y2="565.00" stroke="#111" stroke-width="1.0" stroke-linecap="butt"/>
<text x="455.34" y="575.60" font-size="8.5" text-anchor="middle" fill="#1e1e1e" stroke="#1e1e1e" stroke-width="0.28" textLength="4.35" lengthAdjust="spacingAndGlyphs" >6</text>
<line x1="481.46" y1="562.00" x2="481.46" y2="565.00" stroke="#111" stroke-width="1.0" stroke-linecap="butt"/>
<text x="481.46" y="575.60" font-size="8.5" text-anchor="middle" fill="#1e1e1e" stroke="#1e1e1e" stroke-width="0.28" textLength="4.35" lengthAdjust="spacingAndGlyphs" >8</text>
<line x1="507.58" y1="562.00" x2="507.58" y2="565.00" stroke="#111" stroke-width="1.0" stroke-linecap="butt"/>
<text x="507.58" y="575.60" font-size="8.5" text-anchor="middle" fill="#1e1e1e" stroke="#1e1e1e" stroke-width="0.28" textLength="8.70" lengthAdjust="spacingAndGlyphs" >10</text>
<text x="453.90" y="589.30" font-size="9.8" text-anchor="middle" fill="#1e1e1e" stroke="#1e1e1e" stroke-width="0.28" textLength="71.40" lengthAdjust="spacingAndGlyphs" >Day post infection</text>
<text x="369.60" y="503.60" font-size="9.6" text-anchor="middle" fill="#1e1e1e" stroke="#1e1e1e" stroke-width="0.28" textLength="88.60" lengthAdjust="spacingAndGlyphs" transform="rotate(-90 369.60 503.60)" >Normalized GFP+ cells</text>
<polyline points="403.10,462.00 429.22,472.60 455.34,481.60 507.58,491.10" fill="none" stroke="#050505" stroke-width="1.9" stroke-linejoin="round"/>
<polyline points="403.10,462.00 429.22,524.70 455.34,549.20 507.58,558.20" fill="none" stroke="#8e1230" stroke-width="1.9" stroke-linejoin="round"/>
<path d="M429.22,470.20 L431.62,472.60 L429.22,475.00 L426.82,472.60 Z" fill="#000"/>
<path d="M455.34,479.20 L457.74,481.60 L455.34,484.00 L452.94,481.60 Z" fill="#000"/>
<path d="M507.58,488.70 L509.98,491.10 L507.58,493.50 L505.18,491.10 Z" fill="#000"/>
<rect x="400.70" y="459.60" width="4.80" height="4.80" fill="#8e1230" />
<rect x="426.82" y="522.30" width="4.80" height="4.80" fill="#8e1230" />
<rect x="452.94" y="546.80" width="4.80" height="4.80" fill="#8e1230" />
<rect x="505.18" y="555.80" width="4.80" height="4.80" fill="#8e1230" />
<line x1="429.90" y1="438.10" x2="448.70" y2="438.10" stroke="#050505" stroke-width="1.6" stroke-linecap="butt"/>
<path d="M439.7,435.7 L442.1,438.1 L439.7,440.5 L437.3,438.1 Z" fill="#000"/>
<text x="451.20" y="440.80" font-size="8.5" text-anchor="start" fill="#1e1e1e" stroke="#1e1e1e" stroke-width="0.28" textLength="42.10" lengthAdjust="spacingAndGlyphs" >pMSCV PIG</text>
<line x1="429.90" y1="448.90" x2="448.70" y2="448.90" stroke="#8e1230" stroke-width="1.6" stroke-linecap="butt"/>
<rect x="437.60" y="446.80" width="4.20" height="4.20" fill="#8e1230" />
<text x="451.20" y="451.40" font-size="8.5" text-anchor="start" fill="#1e1e1e" stroke="#1e1e1e" stroke-width="0.28" textLength="53.90" lengthAdjust="spacingAndGlyphs" >mmu-miR-200c</text>
<rect x="0.6" y="0.6" width="518.6" height="597.8" fill="none" stroke="#000" stroke-width="1.3"/>
<rect x="518.75" y="0" width="1.25" height="599" fill="#000"/>
<rect x="0" y="597.7" width="520" height="1.3" fill="#000"/>
</svg>
</body></html>
